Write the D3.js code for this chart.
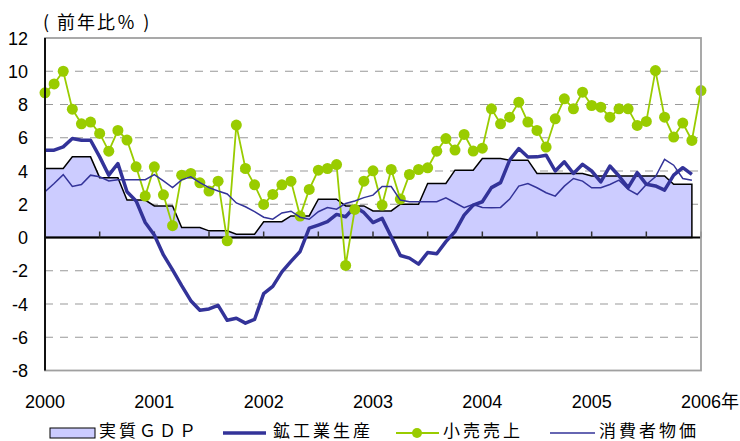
<!DOCTYPE html>
<html>
<head>
<meta charset="utf-8">
<script src="https://cdn.jsdelivr.net/npm/d3@7"></script>
<style>
  body { margin: 0; background: #fff; }
  svg { display: block; }
  text { font-family: "Liberation Sans", Arial, "Noto Sans CJK JP", sans-serif; fill: #000; }
  .jp { font-family: "Noto Sans CJK JP", sans-serif; }
</style>
</head>
<body>
<svg id="chart" width="740" height="441"></svg>
<script>
// year labels and y ticks
var years = ["2000", "2001", "2002", "2003", "2004", "2005", "2006"];
var yTicks = [-8, -6, -4, -2, 0, 2, 4, 6, 8, 10, 12];

// 実質GDP (quarterly, 2000Q1 - 2005Q4)
var gdpQuarterly = [4.15, 4.85, 3.6, 2.25, 1.9, 0.6, 0.4, 0.2, 0.95, 1.3, 2.3, 1.9,
                    1.6, 2.0, 3.25, 4.05, 4.75, 4.65, 3.85, 3.85, 3.7, 3.7, 3.7, 3.2];

// 鉱工業生産 (monthly, Jan 2000 - Dec 2005)
var mining = [5.25, 5.25, 5.45, 5.95, 5.85, 5.85, 4.85, 3.75, 4.45, 2.75, 2.2, 0.9,
              0.15, -1.05, -1.95, -2.9, -3.8, -4.38, -4.3, -4.08, -4.98, -4.86, -5.15, -4.93,
              -3.38, -2.94, -2.07, -1.44, -0.84, 0.56, 0.75, 0.95, 1.39, 1.25, 1.85, 1.5,
              0.9, 1.15, 0.05, -1.08, -1.24, -1.6, -0.9, -0.98, -0.25, 0.35, 1.35, 1.95,
              2.15, 3.0, 3.3, 4.65, 5.35, 4.84, 4.85, 4.95, 4.0, 4.55, 3.85, 4.4,
              4.0, 3.35, 4.3, 3.7, 3.0, 3.9, 3.2, 3.1, 2.85, 3.75, 4.2, 3.8];

// 小売売上 (monthly, Jan 2000 - Jan 2006)
var retail = [8.7, 9.24, 10.0, 7.72, 6.84, 6.94, 6.26, 5.19, 6.44, 5.86,
              4.25, 2.49, 4.25, 2.57, 0.71, 3.75, 3.85, 3.29, 2.79, 3.39,
              -0.2, 6.76, 4.15, 3.17, 1.99, 2.59, 3.17, 3.39, 1.29, 2.89,
              4.05, 4.15, 4.39, -1.68, 1.69, 3.39, 4.01, 1.95, 4.09, 2.31,
              3.79, 4.09, 4.19, 5.19, 5.95, 5.26, 6.2, 5.2, 5.37, 7.74,
              6.84, 7.24, 8.14, 6.94, 6.44, 5.44, 7.14, 8.34, 7.74, 8.74,
              7.94, 7.84, 7.24, 7.74, 7.74, 6.74, 6.98, 10.04, 7.24, 6.04,
              6.88, 5.84, 8.84];

// 消費者物価 (monthly, Jan 2000 - Dec 2005)
var cpi = [2.75, 3.25, 3.78, 3.07, 3.19, 3.75, 3.65, 3.4, 3.48, 3.48, 3.48, 3.48,
           3.78, 3.4, 3.0, 3.47, 3.65, 3.3, 3.0, 2.8, 2.62, 2.08, 1.85, 1.56,
           1.22, 1.1, 1.48, 1.58, 1.22, 1.1, 1.55, 1.8, 1.7, 2.05, 2.2, 2.4,
           2.55, 3.07, 3.07, 2.25, 2.15, 2.15, 2.15, 2.15, 2.39, 2.09, 1.79, 1.99,
           1.81, 1.79, 1.81, 2.31, 3.09, 3.25, 2.99, 2.69, 2.49, 3.09, 3.55, 3.39,
           2.99, 2.99, 3.19, 3.45, 2.89, 2.59, 3.19, 3.65, 4.7, 4.35, 3.55, 3.45];

var legendNames = ["実質ＧＤＰ", "鉱工業生産", "小売売上", "消費者物価"];

var svg = d3.select("#chart");

var x = d3.scaleLinear().domain([0, 72]).range([45, 701]);
var y = d3.scaleLinear().domain([-8, 12]).range([370.5, 38]);
var xYear = d3.scaleLinear().domain([2000, 2006]).range([45, 701]);

// quarterly value held for its three months
var gdpMonthly = [];
gdpQuarterly.forEach(function (v) { gdpMonthly.push(v, v, v); });

// dashed grid
svg.append("g")
  .selectAll("line")
  .data(yTicks.filter(function (d) { return d !== 0 && d !== -8 && d !== 12; }))
  .enter().append("line")
  .attr("x1", x(0)).attr("x2", x(72))
  .attr("y1", function (d) { return y(d); })
  .attr("y2", function (d) { return y(d); })
  .attr("stroke", "#999")
  .attr("stroke-width", 1.2)
  .attr("stroke-dasharray", "8,7");

// GDP area
var area = d3.area()
  .x(function (d, i) { return x(i); })
  .y0(y(0))
  .y1(function (d) { return y(d); });

svg.append("path")
  .datum(gdpMonthly)
  .attr("d", area)
  .attr("fill", "#ccccff")
  .attr("stroke", "#000")
  .attr("stroke-width", 1.5)
  .attr("stroke-linejoin", "miter");

// zero line with half-year ticks
svg.append("line")
  .attr("x1", x(0)).attr("x2", x(72))
  .attr("y1", y(0)).attr("y2", y(0))
  .attr("stroke", "#000").attr("stroke-width", 2);

svg.append("g")
  .selectAll("line")
  .data(d3.range(6, 73, 6))
  .enter().append("line")
  .attr("x1", function (d) { return x(d); })
  .attr("x2", function (d) { return x(d); })
  .attr("y1", y(0))
  .attr("y2", y(0) - 6)
  .attr("stroke", "#333")
  .attr("stroke-width", 1.5);

var line = d3.line()
  .x(function (d, i) { return x(i); })
  .y(function (d) { return y(d); });

// 鉱工業生産
svg.append("path")
  .datum(mining)
  .attr("d", line)
  .attr("fill", "none")
  .attr("stroke", "#333399")
  .attr("stroke-width", 3.5)
  .attr("stroke-linejoin", "round");

// 小売売上
svg.append("path")
  .datum(retail)
  .attr("d", line)
  .attr("fill", "none")
  .attr("stroke", "#99cc00")
  .attr("stroke-width", 1.8);

svg.append("g")
  .selectAll("circle")
  .data(retail)
  .enter().append("circle")
  .attr("cx", function (d, i) { return x(i); })
  .attr("cy", function (d) { return y(d); })
  .attr("r", 5.5)
  .attr("fill", "#99cc00");

// 消費者物価
svg.append("path")
  .datum(cpi)
  .attr("d", line)
  .attr("fill", "none")
  .attr("stroke", "#333399")
  .attr("stroke-width", 1.5);

// frame
svg.append("rect")
  .attr("x", x(0)).attr("y", y(12))
  .attr("width", x(72) - x(0)).attr("height", y(-8) - y(12))
  .attr("fill", "none")
  .attr("stroke", "#a0a0a0")
  .attr("stroke-width", 1.8);

svg.append("line")
  .attr("x1", x(0)).attr("x2", x(0))
  .attr("y1", y(12)).attr("y2", y(-8))
  .attr("stroke", "#000").attr("stroke-width", 1.8);

// y labels
svg.append("g")
  .selectAll("text")
  .data(yTicks)
  .enter().append("text")
  .attr("x", 28)
  .attr("y", function (d) { return y(d) + 6.5; })
  .attr("text-anchor", "end")
  .style("font-size", "18px")
  .text(function (d) { return d; });

// x labels
svg.append("g")
  .selectAll("text")
  .data(years)
  .enter().append("text")
  .attr("x", function (d) { return xYear(+d); })
  .attr("y", 408)
  .attr("text-anchor", "middle")
  .style("font-size", "18px")
  .text(function (d) { return d; });

svg.append("text")
  .attr("class", "jp")
  .attr("x", xYear(2006) + 20)
  .attr("y", 408)
  .style("font-size", "18px")
  .text("年");

// unit title
svg.append("text")
  .attr("class", "jp")
  .attr("x", 43)
  .attr("y", 29)
  .style("font-size", "18px")
  .style("letter-spacing", "2px")
  .style("white-space", "pre")
  .text("( 前年比％ )");

// legend
var lg = svg.append("g").attr("transform", "translate(0,433)");

lg.append("rect")
  .attr("x", 50).attr("y", -5).attr("width", 45).attr("height", 10)
  .attr("fill", "#ccccff").attr("stroke", "#000").attr("stroke-width", 1);

lg.append("line")
  .attr("x1", 223).attr("x2", 266).attr("y1", 0).attr("y2", 0)
  .attr("stroke", "#333399").attr("stroke-width", 3.5);

lg.append("line")
  .attr("x1", 396).attr("x2", 439).attr("y1", 0).attr("y2", 0)
  .attr("stroke", "#99cc00").attr("stroke-width", 1.8);
lg.append("circle")
  .attr("cx", 417).attr("cy", 0).attr("r", 5)
  .attr("fill", "#99cc00");

lg.append("line")
  .attr("x1", 550).attr("x2", 595).attr("y1", 0).attr("y2", 0)
  .attr("stroke", "#333399").attr("stroke-width", 1.5);

var legendX = [99, 273, 443, 599];
lg.selectAll("text.lbl")
  .data(legendNames)
  .enter().append("text")
  .attr("class", "jp lbl")
  .attr("x", function (d, i) { return legendX[i]; })
  .attr("y", 3.5)
  .style("font-size", "17px")
  .style("letter-spacing", "3px")
  .text(function (d) { return d; });
</script>
</body>
</html>
